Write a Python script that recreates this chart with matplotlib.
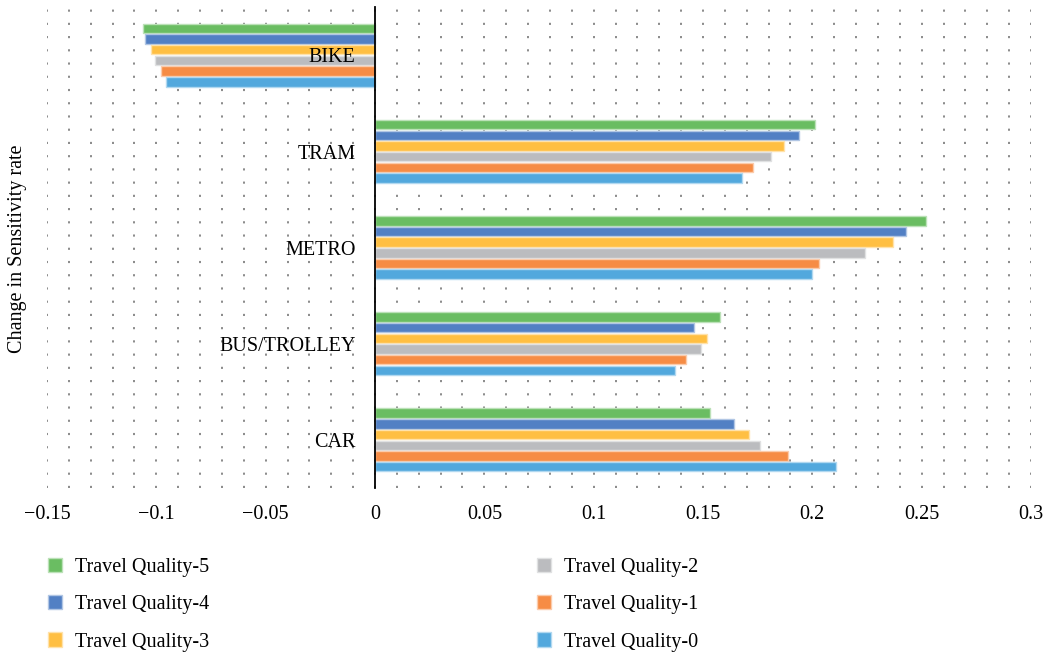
import numpy as np
import matplotlib.pyplot as plt
from matplotlib.patches import Patch
from matplotlib.ticker import MultipleLocator

plt.rcParams['font.family'] = ['Liberation Serif', 'DejaVu Serif']

# categories from bottom to top
modes = ["CAR", "BUS/TROLLEY", "METRO", "TRAM", "BIKE"]

# series listed top-to-bottom inside each group
series_names = ["Travel Quality-5", "Travel Quality-4", "Travel Quality-3",
                "Travel Quality-2", "Travel Quality-1", "Travel Quality-0"]
colors = ["#6abd62", "#5280c4", "#ffbf42", "#bbbcbf", "#f68c45", "#52a8dd"]

tq5 = [0.153, 0.158, 0.252, 0.201, -0.106]
tq4 = [0.164, 0.146, 0.243, 0.194, -0.105]
tq3 = [0.171, 0.152, 0.237, 0.187, -0.1025]
tq2 = [0.176, 0.149, 0.224, 0.181, -0.1005]
tq1 = [0.189, 0.142, 0.203, 0.173, -0.0977]
tq0 = [0.211, 0.137, 0.200, 0.168, -0.0957]
values = [tq5, tq4, tq3, tq2, tq1, tq0]


def lighten(c, amt=0.5):
    rgb = np.array(plt.matplotlib.colors.to_rgb(c))
    return tuple(rgb + (1 - rgb) * amt)


fig = plt.figure(figsize=(10.47, 6.56), dpi=100)
ax = fig.add_axes([47 / 1047, 1 - 488 / 656, (1031 - 47) / 1047, (488 - 7) / 656])

y = np.arange(len(modes))
step = 0.111
bar_h = 0.098
for i, (name, col, vals) in enumerate(zip(series_names, colors, values)):
    offset = (2.5 - i) * step
    ax.barh(y + offset, vals, height=bar_h, color=col,
            edgecolor=lighten(col, 0.55), linewidth=1, label=name, zorder=3)

ax.set_xlim(-0.15, 0.3)
ax.set_ylim(-0.5, 4.5)

# dotted background grid
ax.xaxis.set_major_locator(MultipleLocator(0.05))
ax.xaxis.set_minor_locator(MultipleLocator(0.01))
ax.grid(which='both', axis='x', color='#6b6b6b', linewidth=1.1,
        linestyle=(0.0, (1.4, 7.26)), zorder=0)
ax.set_axisbelow(True)

ax.set_xticks(np.arange(-0.15, 0.31, 0.05))
ax.set_xticklabels(["\u22120.15", "\u22120.1", "\u22120.05", "0", "0.05",
                    "0.1", "0.15", "0.2", "0.25", "0.3"])
ax.tick_params(axis='x', which='both', length=0, pad=12, labelsize=14.5)

# category labels sit left of the zero line, over the bars
ax.set_yticks([])
for yi, m in zip(y, modes):
    ax.annotate(m, (0, yi), xytext=(-14, -2), textcoords='offset points',
                ha='right', va='center', fontsize=14.5, zorder=6)

ax.spines['left'].set_position(('data', 0))
ax.spines['left'].set_linewidth(1.3)
ax.spines['left'].set_zorder(4)
for s in ['top', 'right', 'bottom']:
    ax.spines[s].set_visible(False)

fig.text(18 / 1047, 1 - 249 / 656, "Change in Sensitivity rate", rotation=90,
         ha='center', va='center', fontsize=14.5)

handles = [Patch(facecolor=c, edgecolor=lighten(c, 0.55), linewidth=1) for c in colors]
fig.legend(handles, series_names, loc='upper left',
           bbox_to_anchor=(48 / 1047, 1 - 558 / 656), ncol=2, frameon=False,
           borderaxespad=0, borderpad=0,
           fontsize=14.5, handlelength=0.7, handleheight=0.7, handletextpad=0.65,
           columnspacing=16.25, labelspacing=0.9)

fig.savefig("out.png", dpi=100)
